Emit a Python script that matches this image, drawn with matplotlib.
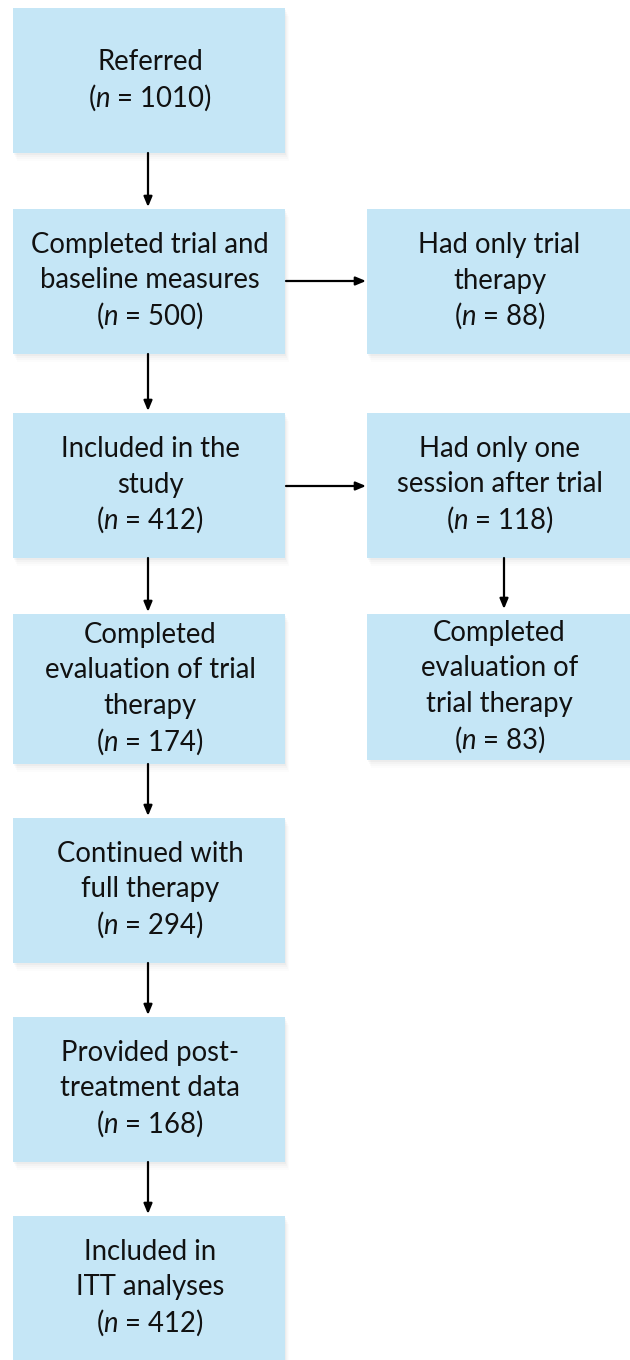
import matplotlib
matplotlib.use("Agg")
import matplotlib.pyplot as plt
from matplotlib.patches import Rectangle

plt.rcParams['mathtext.fontset'] = 'custom'
plt.rcParams['mathtext.rm'] = 'Lato'
plt.rcParams['mathtext.it'] = 'Lato:italic'

# ---- data ----
left_labels = [
    "Referred",
    "Completed trial and\nbaseline measures",
    "Included in the\nstudy",
    "Completed\nevaluation of trial\ntherapy",
    "Continued with\nfull therapy",
    "Provided post-\ntreatment data",
    "Included in\nITT analyses",
]
left_counts = [1010, 500, 412, 174, 294, 168, 412]

right_labels = [
    "Had only trial\ntherapy",
    "Had only one\nsession after trial",
    "Completed\nevaluation of\ntrial therapy",
]
right_counts = [88, 118, 83]

# ---- layout (pixels) ----
W, H = 630, 1360
fig = plt.figure(figsize=(W / 100, H / 100), dpi=100)
ax = fig.add_axes([0, 0, 1, 1])
ax.set_xlim(0, W)
ax.set_ylim(H, 0)
ax.axis('off')

BOX = '#C5E6F6'
left_x0, left_x1 = 13, 285
right_x0, right_x1 = 367, 636
left_y = [(8, 153), (209, 354), (413, 558), (614, 764), (818, 963), (1017, 1162), (1216, 1366)]
right_y = [(209, 354), (413, 558), (614, 760)]
FS = 19.8
LS = 35.5


def box(x0, x1, y0, y1, label, n):
    # soft shadow
    for i, a in enumerate([0.05, 0.04, 0.03, 0.02]):
        d = 2 + i * 2
        ax.add_patch(Rectangle((x0 + d * 0.5, y0 + d), x1 - x0, y1 - y0,
                               facecolor='#888888', alpha=a, edgecolor='none', zorder=1))
    ax.add_patch(Rectangle((x0, y0), x1 - x0, y1 - y0, facecolor=BOX,
                           edgecolor='none', zorder=2))
    lines = label.split("\n") + [r"($n$ = %d)" % n]
    yc = (y0 + min(y1, H)) / 2 - 1
    k = len(lines)
    for i, t in enumerate(lines):
        y = yc + (i - (k - 1) / 2) * LS
        ax.text((x0 + min(x1, W)) / 2 + 1, y, t, ha='center', va='center',
                fontsize=FS, family='Lato', color='#111111', zorder=3)


for (y0, y1), lab, n in zip(left_y, left_labels, left_counts):
    box(left_x0, left_x1, y0, y1, lab, n)
for (y0, y1), lab, n in zip(right_y, right_labels, right_counts):
    box(right_x0, right_x1, y0, y1, lab, n)

arrow_kw = dict(arrowstyle='-|>,head_length=0.6,head_width=0.25', color='black',
                lw=1.6, shrinkA=0, shrinkB=0)
xc = 148
for (a0, a1), (b0, b1) in zip(left_y[:-1], left_y[1:]):
    ax.annotate('', xy=(xc, b0 - 2), xytext=(xc, a1), arrowprops=arrow_kw, zorder=4)

for yy in [281, 486]:
    ax.annotate('', xy=(right_x0 - 1, yy), xytext=(left_x1 + 1, yy),
                arrowprops=arrow_kw, zorder=4)

ax.annotate('', xy=(504, right_y[2][0] - 5), xytext=(504, right_y[1][1]),
            arrowprops=arrow_kw, zorder=4)

fig.savefig('out.png', dpi=100)
